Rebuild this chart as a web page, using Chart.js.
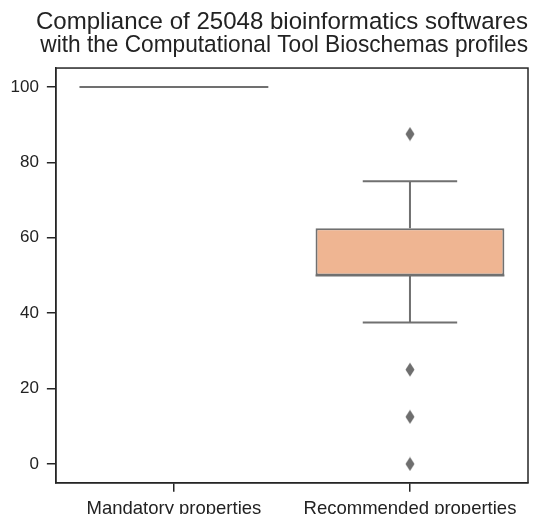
<!DOCTYPE html>
<html>
<head>
<meta charset="utf-8">
<script src="https://cdn.jsdelivr.net/npm/chart.js@4.4.1/dist/chart.umd.min.js"></script>
<style>
  html, body { margin: 0; padding: 0; background: #fff; }
  #wrap { width: 552px; height: 514px; }
</style>
</head>
<body>
<div id="wrap"><canvas id="boxChart" width="552" height="514"></canvas></div>
<script>
  // dados
  const categorias = ['Mandatory properties', 'Recommended properties'];
  const minimos = [100, 37.5];
  const q1 = [100, 50];
  const medianas = [100, 50];
  const q3 = [100, 62.5];
  const maximos = [100, 75];
  const outliersRecomendado = [87.5, 25, 12.5, 0];
  const yTicks = [0, 20, 40, 60, 80, 100];

  const corLinha = '#707070';
  const corEixo = '#262626';
  const fonte = "'Liberation Sans', Arial, sans-serif";

  /* marcador losango estreito (estilo 'd' do seaborn) */
  function criarLosango() {
    const c = document.createElement('canvas');
    c.width = 10; c.height = 15;
    const g = c.getContext('2d');
    g.fillStyle = '#6e6e6e';
    g.beginPath();
    g.moveTo(5, 0.5); g.lineTo(9.5, 7.5); g.lineTo(5, 14.5); g.lineTo(0.5, 7.5);
    g.closePath();
    g.fill();
    return c;
  }

  // desenha bigodes, mediana e moldura usando as escalas do grafico
  const boxPlugin = {
    id: 'boxPlugin',
    afterDatasetsDraw(chart) {
      const ctx = chart.ctx;
      const x = chart.scales.x;
      const y = chart.scales.y;
      const meta = chart.getDatasetMeta(0);
      ctx.save();
      ctx.strokeStyle = corLinha;
      ctx.lineWidth = 2;
      categorias.forEach((cat, i) => {
        const bar = meta.data[i];
        const cx = x.getPixelForValue(i);
        const half = bar.width / 2;
        const capHalf = half / 2;
        ctx.beginPath();
        // bigode superior
        ctx.moveTo(cx, y.getPixelForValue(q3[i]));
        ctx.lineTo(cx, y.getPixelForValue(maximos[i]));
        ctx.moveTo(cx - capHalf, y.getPixelForValue(maximos[i]));
        ctx.lineTo(cx + capHalf, y.getPixelForValue(maximos[i]));
        // bigode inferior
        ctx.moveTo(cx, y.getPixelForValue(q1[i]));
        ctx.lineTo(cx, y.getPixelForValue(minimos[i]));
        ctx.moveTo(cx - capHalf, y.getPixelForValue(minimos[i]));
        ctx.lineTo(cx + capHalf, y.getPixelForValue(minimos[i]));
        // mediana
        ctx.moveTo(cx - half, y.getPixelForValue(medianas[i]));
        ctx.lineTo(cx + half, y.getPixelForValue(medianas[i]));
        ctx.stroke();
      });
      // moldura
      const a = chart.chartArea;
      ctx.strokeStyle = corEixo;
      ctx.lineWidth = 1.5;
      ctx.strokeRect(a.left, a.top, a.right - a.left, a.bottom - a.top);
      ctx.restore();
    }
  };

  document.addEventListener('DOMContentLoaded', () => {
    const ctx = document.getElementById('boxChart').getContext('2d');
    Chart.defaults.font.family = fonte;
    Chart.defaults.color = '#222';

    new Chart(ctx, {
      type: 'bar',
      data: {
        labels: categorias,
        datasets: [{
            label: 'caixa',
            data: categorias.map((c, i) => [q1[i], q3[i]]),
            backgroundColor: ['#8fb3d9', '#efb592'],
            borderColor: corLinha,
            borderWidth: 2,
            borderSkipped: false,
            barPercentage: 0.8,
            categoryPercentage: 1.0
          },
          {
            type: 'scatter',
            label: 'outliers',
            data: outliersRecomendado.map(v => ({ x: categorias[1], y: v })),
            pointStyle: criarLosango(),
            pointRadius: 7
          }
        ]
      },
      options: {
        responsive: false,
        animation: false,
        layout: { padding: { left: 2.5, right: 24, bottom: -12 } },
        scales: {
          x: {
            type: 'category',
            offset: true,
            grid: { offset: false, drawOnChartArea: false, drawTicks: true, tickLength: 9, color: corEixo, lineWidth: 1.5 },
            border: { display: true, color: corEixo, width: 1.5 },
            ticks: { font: { size: 18.5 }, color: '#222', padding: 6, maxRotation: 0 }
          },
          y: {
            min: -5,
            max: 105,
            afterBuildTicks: axis => { axis.ticks = yTicks.map(v => ({ value: v })); },
            grid: { drawOnChartArea: false, drawTicks: true, tickLength: 9, color: corEixo, lineWidth: 1.5 },
            border: { display: true, color: corEixo, width: 1.5 },
            ticks: { font: { size: 17 }, color: '#222', padding: 8 }
          }
        },
        plugins: {
          legend: { display: false },
          tooltip: { enabled: false },
          title: {
            display: true,
            // espacos iniciais deslocam o titulo para o centro do eixo
            text: ['     Compliance of 25048 bioinformatics softwares', '      with the Computational Tool Bioschemas profiles'],
            color: '#222',
            font: { size: 24.5, weight: 'normal', lineHeight: 0.96 },
            padding: { top: 10, bottom: 11 }
          }
        }
      },
      plugins: [boxPlugin]
    });
  });
</script>
</body>
</html>
